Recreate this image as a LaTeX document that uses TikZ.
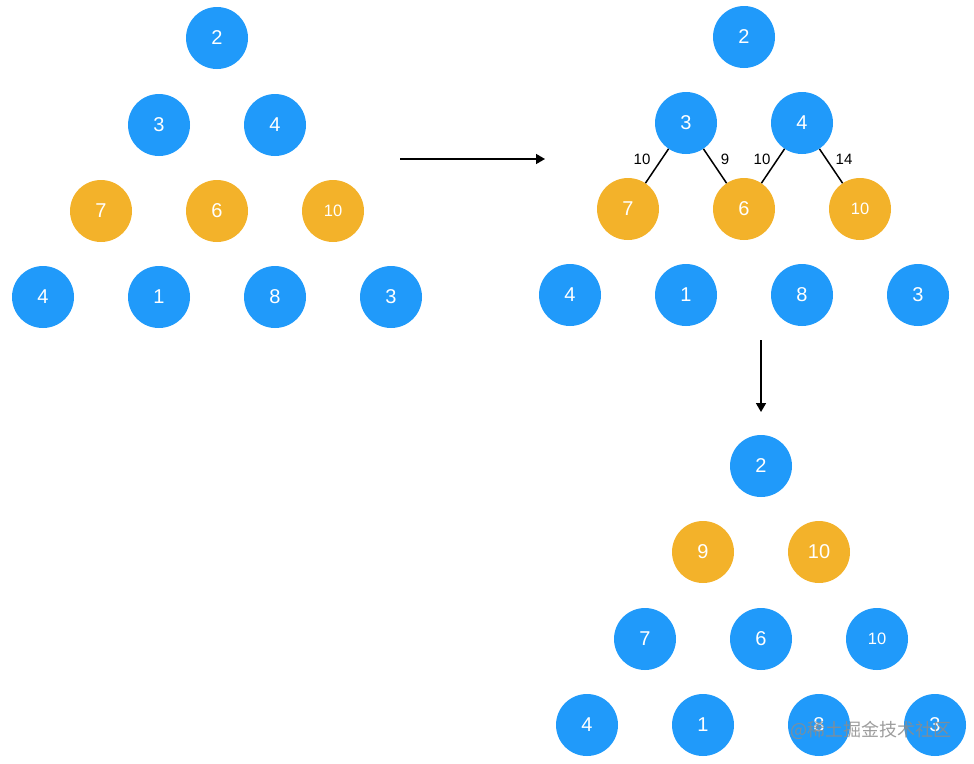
\documentclass[tikz,border=0pt]{standalone}
\usepackage{fontspec}
\setmainfont{Liberation Sans}
\newfontfamily\cjk{Noto Sans CJK SC}
\usetikzlibrary{positioning,arrows.meta}
\definecolor{heapblue}{RGB}{32,154,250}
\definecolor{heaporange}{RGB}{243,178,42}
\tikzset{
  ball/.style={circle,minimum size=62pt,inner sep=0pt,text=white,font=\fontsize{20}{20}\selectfont},
  bball/.style={ball,fill=heapblue},
  oball/.style={ball,fill=heaporange},
  small/.style={font=\fontsize{16.5}{16.5}\selectfont},
  edge/.style={line width=1.5pt},
  weight/.style={font=\fontsize{15}{15}\selectfont},
  move/.style={line width=1.6pt,-{Triangle[length=9pt,width=10pt]}}
}

\begin{document}
\begin{tikzpicture}[x=1pt,y=-1pt]
    \useasboundingbox (0,0) rectangle (974,763);
    % left heap
    \node[bball] (a1) at (217,38) {2};
    \node[bball] (a2) at (159,125) {3};
    \node[bball] (a3) at (275,125) {4};
    \node[oball] (a4) at (101,211) {7};
    \node[oball] (a5) at (217,211) {6};
    \node[oball,small] (a6) at (333,211) {10};
    \node[bball] (a7) at (43,297) {4};
    \node[bball] (a8) at (159,297) {1};
    \node[bball] (a9) at (275,297) {8};
    \node[bball] (a10) at (391,297) {3};
    % right heap
    \node[bball] (b1) at (744,37) {2};
    \node[bball] (b2) at (686,123) {3};
    \node[bball] (b3) at (802,123) {4};
    \node[oball] (b4) at (628,209) {7};
    \node[oball] (b5) at (744,209) {6};
    \node[oball,small] (b6) at (860,209) {10};
    \node[bball] (b7) at (570,295) {4};
    \node[bball] (b8) at (686,295) {1};
    \node[bball] (b9) at (802,295) {8};
    \node[bball] (b10) at (918,295) {3};
    \draw[edge] (b2) -- (b4);
    \draw[edge] (b2) -- (b5);
    \draw[edge] (b3) -- (b5);
    \draw[edge] (b3) -- (b6);
    \node[weight] (w1) at (642,159) {10};
    \node[weight] (w2) at (725,159) {9};
    \node[weight] (w3) at (762,159) {10};
    \node[weight] (w4) at (844,159) {14};
    % bottom heap
    \node[bball] (c1) at (761,466) {2};
    \node[oball] (c2) at (703,552) {9};
    \node[oball] (c3) at (819,552) {10};
    \node[bball] (c4) at (645,639) {7};
    \node[bball] (c5) at (761,639) {6};
    \node[bball,small] (c6) at (877,639) {10};
    \node[bball] (c7) at (587,725) {4};
    \node[bball] (c8) at (703,725) {1};
    \node[bball] (c9) at (819,725) {8};
    \node[bball] (c10) at (935,725) {3};
    % arrows
    \coordinate (p1) at (400,159);
    \coordinate (p2) at (545,159);
    \coordinate (q1) at (761,340);
    \coordinate (q2) at (761,412);
    \draw[move] (p1) -- (p2);
    \draw[move] (q1) -- (q2);
    % watermark
    \node[text=black!45,opacity=0.85,font=\cjk\fontsize{18}{18}\selectfont] (mark) at (871,730) {@稀土掘金技术社区};
\end{tikzpicture}
\end{document}
